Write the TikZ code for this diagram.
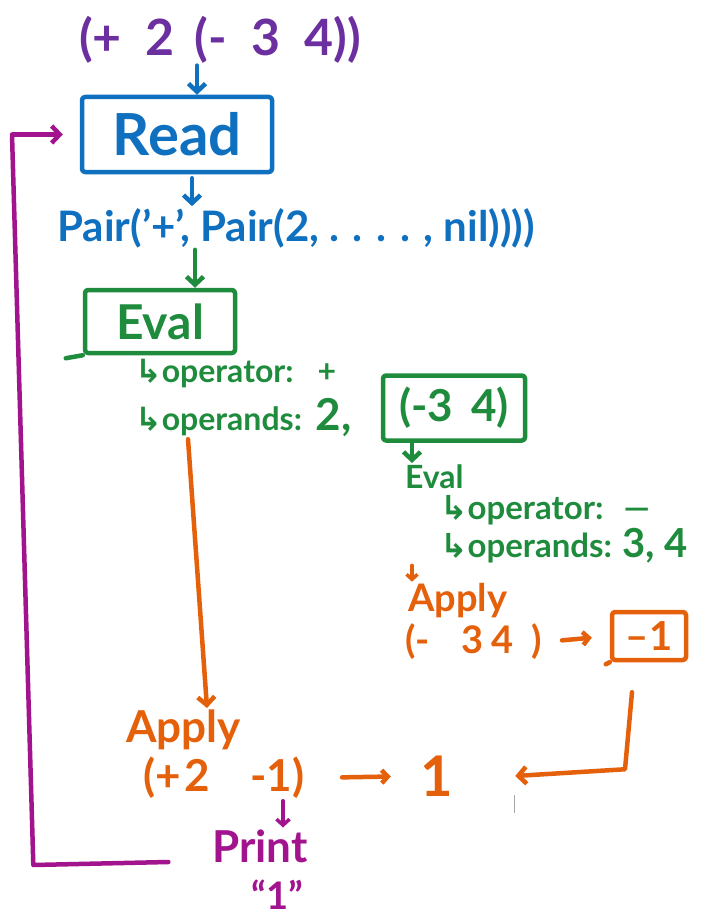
\documentclass[tikz,border=0pt]{standalone}
\usepackage{fontspec}
\setmainfont{Lato}
\newfontfamily\symf{DejaVu Sans}
\usetikzlibrary{arrows.meta,calc}
\definecolor{cpurple}{HTML}{6B2FA0}
\definecolor{cblue}{HTML}{1070C0}
\definecolor{cgreen}{HTML}{1E8C3C}
\definecolor{corange}{HTML}{E5600A}
\definecolor{cmag}{HTML}{A2138E}
\newcommand{\fs}[1]{\fontsize{#1}{#1}\selectfont\bfseries}
\begin{document}
\begin{tikzpicture}[x=1pt,y=-1pt,
  hand/.style={line width=4.5pt,line cap=round,line join=round},
  arr/.style={hand,-{Straight Barb[length=8pt,width=17pt]}},
  txt/.style={inner sep=0pt,outer sep=2pt},
  hbox/.style={draw,hand,rounded corners=3pt,inner sep=0pt}]
\fill[white] (0,0) rectangle (701,923);
\useasboundingbox (0,0) rectangle (701,923);

% x positions of the vertical connectors
\coordinate (xa) at (197,0);
\coordinate (xb) at (192,0);
\coordinate (xc) at (195,0);
\coordinate (xd) at (412,0);
\coordinate (xe) at (283,0);
\coordinate (lx) at (12,0);

% top expression
\node[txt,cpurple,font=\fs{50}] (expr) at (220,40) {(+\hspace{24pt}2\hspace{20pt}(-\hspace{24pt}3\hspace{24pt}4))};
% Read box
\node[hbox,cblue,minimum width=190pt,minimum height=75pt,font=\fs{58}] (read) at (177,134.5) {Read};
\draw[arr,cblue] (expr.south -| xa) -- (read.north -| xa);

% Pair line
\node[txt,cblue,font=\fs{42}] (pair) at (296,228) {Pair('+', Pair(2, . . . . , nil))))};
\draw[arr,cblue,shorten <=4pt] (read.south -| xb) -- (pair.north -| xb);

% Eval box
\node[hbox,cgreen,minimum width=150pt,minimum height=63pt,font=\fs{48}] (eval) at (160,321.5) {Eval\hspace{18pt}};
\draw[hand,cgreen] ($(eval.south west)+(-17,3)$) -- (eval.south west);
\draw[arr,cgreen] (pair.south -| xc) -- (eval.north -| xc);

% operator / operands
\node[txt,cgreen,anchor=west,font=\fs{32}] (op1) at (133,374) {{\symf ↳}operator:\hspace{24pt}+};
\node[txt,cgreen,anchor=west,font=\fs{32}] (op2) at (133,418) {{\symf ↳}operands:\hspace{14pt}{\fs{44}2,}};
\node[hbox,cgreen,minimum width=142pt,minimum height=65pt,font=\fs{44}] (sub) at (454,408) {(-3\hspace{18pt}4)};

% second eval
\node[txt,cgreen,anchor=west,font=\fs{32}] (eval2) at (403,477) {Eval};
\draw[arr,cgreen] (sub.south -| xd) -- (eval2.north -| xd);
\node[txt,cgreen,anchor=west,font=\fs{33}] (op3) at (438,510) {{\symf ↳}operator:\hspace{20pt}—};
\node[txt,cgreen,anchor=west,font=\fs{33}] (op4) at (438,546) {{\symf ↳}operands:\hspace{10pt}{\fs{40}3,\hspace{10pt}4}};

% apply right
\node[txt,corange,anchor=west,font=\fs{38}] (apply2) at (406,601) {Apply};
\draw[arr,corange,line width=3.5pt,-{Straight Barb[length=5pt,width=11pt]}] (op4.south -| xd) -- (apply2.north -| xd);
\node[txt,corange,anchor=west,font=\fs{38}] (e2) at (403,642) {(-\hspace{32pt}3\hspace{8pt}4\hspace{18pt})};
\node[hbox,corange,minimum width=74pt,minimum height=48pt,font=\fs{40}] (m1) at (649,636) {–1};
\draw[hand,corange] ($(m1.south west)+(-4,2)$) -- (m1.south west);
\draw[arr,corange,shorten <=18pt,shorten >=18pt,-{Straight Barb[length=6pt,width=13pt]}] (e2.east) -- (m1.west);

% apply left
\node[txt,corange,anchor=west,font=\fs{44}] (apply1) at (124,730) {Apply};
\draw[arr,corange] ([xshift=55pt]op2.south west) -- ([xshift=83pt]apply1.north west);
\node[txt,corange,anchor=west,font=\fs{44}] (e1) at (141,778) {(+\hspace{4pt}2\hspace{40pt}-1)};
\node[txt,corange,font=\fs{56}] (one) at (437,776) {1};
\draw[arr,corange,shorten <=36pt,shorten >=28pt,-{Straight Barb[length=6pt,width=13pt]}] (e1.east) -- (one.west);
\draw[arr,corange] ($(m1.south)+(-17,30)$) -- ($(m1.south)+(-24,107)$) -- ([xshift=60pt]one.east);

% cursor mark
\draw[gray!70,line width=1pt] (514,795) -- (514,813);

% print
\node[txt,cmag,font=\fs{44}] (print) at (260,846) {Print};
\node[txt,cmag,font=\fs{38}] (res) at (277,895) {“1”};
\draw[arr,cmag,line width=3.5pt,-{Straight Barb[length=6pt,width=13pt]}] (e1.south -| xe) -- (print.north -| xe);
\draw[arr,cmag] ($(print.west)+(-42,16)$) -- ($(print.west)+(-177,19)$) -- (read.west -| lx) -- ([xshift=-17pt]read.west);
\end{tikzpicture}
\end{document}
